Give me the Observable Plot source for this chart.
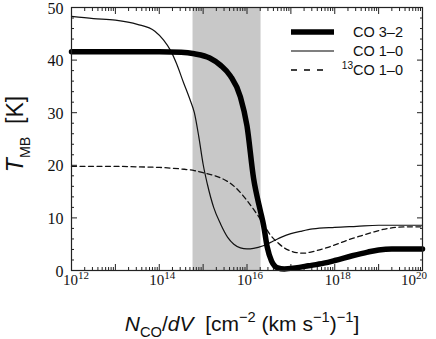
<!DOCTYPE html>
<html><head><meta charset="utf-8">
<script src="https://cdn.jsdelivr.net/npm/d3@7"></script>
<script src="https://cdn.jsdelivr.net/npm/@observablehq/plot@0.6"></script>
<style>body{margin:0;background:#fff} svg{display:block}</style>
</head><body><div id="chart"></div>
<script>
// log10(N_CO/dV) and T_MB [K] for each line
const co32LogN = [12.0,13.0,14.0,14.5,14.8,15.15,15.4,15.62,15.85,16.0,16.15,16.3,16.38,16.46,16.56,16.7,16.85,17.1,17.4,17.75,18.0,18.4,18.75,19.0,19.3,19.6,20.0];
const co32T    = [41.6,41.6,41.6,41.5,41.2,40.4,39.0,37.0,33.0,27.5,17.5,11.5,8.5,4.5,1.8,0.5,0.3,0.5,0.9,1.4,1.9,2.8,3.5,3.9,4.1,4.1,4.1];
const co10LogN = [12.0,12.5,13.0,13.5,13.9,14.1,14.26,14.4,14.55,14.7,14.8,14.9,15.0,15.1,15.24,15.4,15.56,15.7,15.85,16.0,16.15,16.37,16.6,16.8,17.0,17.25,17.5,18.0,18.5,19.0,20.0];
const co10T    = [48.3,47.9,47.6,46.8,45.5,43.8,41.8,39.2,35.8,32.5,30.0,25.5,20.2,16.3,12.0,8.8,6.3,5.0,4.3,4.1,4.2,4.7,5.6,6.4,7.0,7.5,7.9,8.2,8.4,8.6,8.6];
const c13LogN  = [12.0,13.0,13.5,14.0,14.5,14.8,15.0,15.37,15.6,15.76,16.0,16.22,16.4,16.51,16.7,16.83,17.0,17.13,17.3,17.5,17.8,18.05,18.3,18.6,18.84,19.1,19.4,19.7,20.0];
const c13T     = [19.8,19.8,19.7,19.6,19.3,19.0,18.6,17.7,16.7,15.6,13.3,10.8,8.5,7.0,5.3,4.4,3.7,3.4,3.3,3.6,4.3,5.0,5.8,6.6,7.2,7.8,8.2,8.3,8.3];
const bandLogN = [14.77, 16.32];
const seriesNames = ["CO 3–2", "CO 1–0", "13CO 1–0"];
const xLabelExp = [12, 14, 16, 18, 20];
const yLabels = [0, 10, 20, 30, 40, 50];

const toRows = (lx, ty) => lx.map((v, i) => ({N: Math.pow(10, v), T: ty[i]}));
const co32 = toRows(co32LogN, co32T);
const co10 = toRows(co10LogN, co10T);
const c13 = toRows(c13LogN, c13T);

const xMajor = d3.range(12, 21).map(e => Math.pow(10, e));
const xMinor = d3.range(12, 20).flatMap(e => d3.range(2, 10).map(m => m * Math.pow(10, e)));
const yMinor = d3.range(0, 51, 2).filter(v => v % 10 !== 0);

const tickAxes = [];
for (const a of ["bottom", "top"]) {
  tickAxes.push(Plot.axisX(xMajor, {anchor: a, tickSize: -6, fill: "none", stroke: "#222", label: null}));
  tickAxes.push(Plot.axisX(xMinor, {anchor: a, tickSize: -3, fill: "none", stroke: "#222", label: null}));
}
for (const a of ["left", "right"]) {
  tickAxes.push(Plot.axisY(yLabels, {anchor: a, tickSize: -6, fill: "none", stroke: "#222", label: null}));
  tickAxes.push(Plot.axisY(yMinor, {anchor: a, tickSize: -3, fill: "none", stroke: "#222", label: null}));
}

const serif = "'Liberation Serif', 'Times New Roman', serif";
const svg = Plot.plot({
  width: 436, height: 339,
  marginLeft: 71, marginRight: 14, marginTop: 7, marginBottom: 69,
  style: {fontFamily: serif, fontSize: "14px", background: "#fff", color: "#111"},
  x: {type: "log", domain: [1e12, 1e20]},
  y: {domain: [0, 50]},
  marks: [
    Plot.rect([{a: bandLogN[0], b: bandLogN[1]}], {x1: d => Math.pow(10, d.a), x2: d => Math.pow(10, d.b), y1: 0, y2: 50, fill: "#c8c8c8"}),
    ...tickAxes,
    Plot.text(xLabelExp, {x: e => Math.pow(10, e), text: e => String(e), frameAnchor: "bottom", lineAnchor: "middle",
      dy: 9.5, fontSize: 15, fontFamily: serif, fill: "#111"}),
    Plot.axisY(yLabels, {anchor: "left", tickSize: 0, tickPadding: 8, dy: 1, fontSize: 16, fill: "#111", label: null}),
    Plot.line(c13, {x: "N", y: "T", stroke: "#111", strokeWidth: 1.3, strokeDasharray: "5,3.5", curve: "monotone-x"}),
    Plot.line(co10, {x: "N", y: "T", stroke: "#111", strokeWidth: 1.2, curve: "monotone-x"}),
    Plot.line(co32, {x: "N", y: "T", stroke: "#000", strokeWidth: 5.5, curve: "monotone-x"}),
    Plot.frame({stroke: "#222", strokeWidth: 1.2})
  ]
});

const root = d3.select(svg);

// "10" with superscript exponent on x tick labels
root.selectAll('g[aria-label="text"] text').each(function() {
  const e = this.textContent;
  const t = d3.select(this);
  t.text("");
  t.append("tspan").attr("font-size", 15).style("font-size", "15px").text("10");
  t.append("tspan").attr("dy", -5.5).attr("font-size", 11).style("font-size", "11px").text(e);
  t.attr("dx", e === "20" ? -8.5 : e === "12" ? 4.5 : 3);
});

function rich(sel, size, parts, ratio = 0.7) {
  let cur = 0;
  parts.forEach(p => {
    const small = p.sub || p.sup;
    const off = p.sub ? size * 0.3 : p.sup ? -size * 0.42 : 0;
    sel.append("tspan").attr("dy", off - cur).attr("font-size", small ? size * ratio : size)
      .attr("font-style", p.it ? "italic" : null).text(p.t);
    cur = off;
  });
}

const sans = "'Liberation Sans', Arial, sans-serif";

// x axis title
const xt = root.append("text").attr("x", 242).attr("y", 331).attr("text-anchor", "middle")
  .attr("font-family", sans).attr("font-size", 21).attr("fill", "#111").style("white-space", "pre");
rich(xt, 21, [{t: "N", it: true}, {t: "CO", sub: true}, {t: "/"}, {t: "dV", it: true}, {t: "  [cm"}, {t: "−2", sup: true},
  {t: " (km s"}, {t: "−1", sup: true}, {t: ")"}, {t: "−1", sup: true}, {t: "]"}]);

// y axis title
const yt = root.append("text").attr("transform", "translate(23,134) rotate(-90)").attr("text-anchor", "middle")
  .attr("font-family", sans).attr("font-size", 23).attr("fill", "#111").style("white-space", "pre");
rich(yt, 23, [{t: "T", it: true}, {t: "MB", sub: true}, {t: "  [K]"}], 0.62);

// legend
const leg = [
  {y: 32, w: 5.5, dash: null, x2: 334},
  {y: 51, w: 1.2, dash: null, x2: 334},
  {y: 70, w: 1.3, dash: "6,7", x2: 330}
];
leg.forEach((l, i) => {
  root.append("line").attr("x1", 291).attr("x2", l.x2).attr("y1", l.y).attr("y2", l.y)
    .attr("stroke", "#000").attr("stroke-width", l.w).attr("stroke-dasharray", l.dash);
  const t = root.append("text").attr("x", 403).attr("y", l.y + 5).attr("text-anchor", "end")
    .attr("font-family", sans).attr("font-size", 14.5).attr("fill", "#111");
  if (i === 2) rich(t, 14.5, [{t: "13", sup: true}, {t: "CO 1–0"}]);
  else t.text(seriesNames[i]);
});

document.getElementById("chart").appendChild(svg);
</script>
</body></html>
